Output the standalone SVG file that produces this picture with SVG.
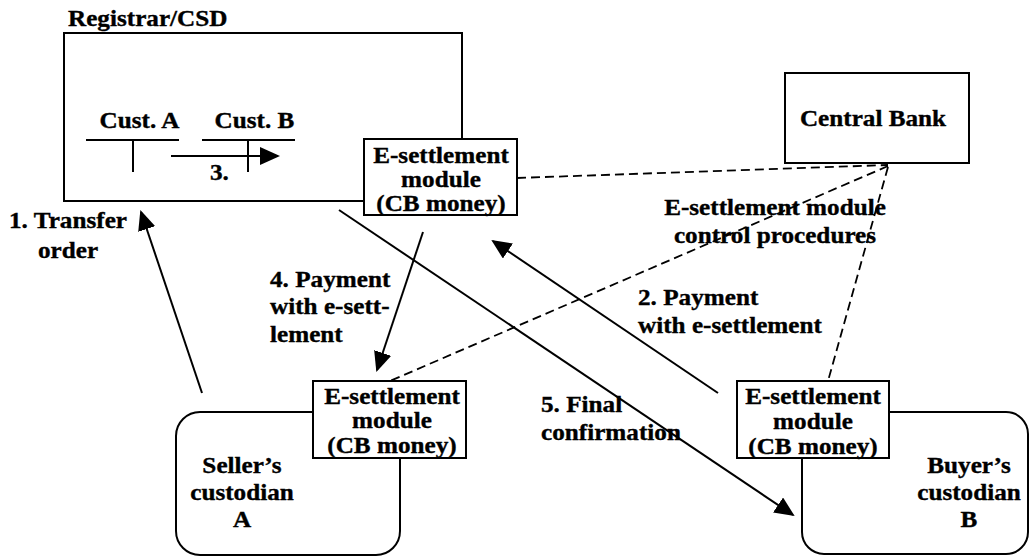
<svg xmlns="http://www.w3.org/2000/svg" width="1029" height="556" viewBox="0 0 1029 556" font-family="'Liberation Serif', 'DejaVu Serif', 'Times New Roman', serif">
  <style>
    .box { fill: #fff; stroke: #000; stroke-width: 2; }
    .ln { fill: none; stroke: #000; stroke-width: 2; }
    .dash { fill: none; stroke: #000; stroke-width: 1.8; stroke-dasharray: 9 5; }
    .arr { fill: none; stroke: #000; stroke-width: 2; marker-end: url(#head); }
    .t { font-family: 'Liberation Serif', 'DejaVu Serif', 'Times New Roman', serif; font-weight: 700; font-size: 22.5px; fill: #000; stroke: #000; stroke-width: 0.35px; }
    .c { text-anchor: middle; }
  </style>
  <defs>
    <marker id="head" viewBox="0 0 20 18" refX="18" refY="9" markerWidth="20" markerHeight="18" markerUnits="userSpaceOnUse" orient="auto">
      <path d="M0,0 L20,9 L0,18 Z" fill="#000"/>
    </marker>
  </defs>

  <!-- Registrar / CSD with its securities accounts -->
  <g id="registrar">
    <rect class="box" x="64" y="33" width="398" height="168"/>
    <text class="t" transform="translate(68,26) scale(1.12 1)">Registrar/CSD</text>
    <text class="t c" transform="translate(139.5,128) scale(1.12 1)">Cust. A</text>
    <text class="t c" transform="translate(254.5,128) scale(1.12 1)">Cust. B</text>
    <path class="ln" d="M86,140 H179 M133,140 V172 M202,140 H295 M248,140 V172"/>
    <path class="arr" d="M171,156 H278"/>
    <text class="t" transform="translate(210,180) scale(1.12 1)">3.</text>
  </g>

  <g id="registrar-module">
    <rect class="box" x="364" y="139" width="153" height="76"/>
    <text class="t c" transform="translate(441,162.5) scale(1.12 1)"><tspan x="0">E-settlement</tspan><tspan x="0" dy="24.5">module</tspan><tspan x="0" dy="24.5">(CB money)</tspan></text>
  </g>

  <g id="central-bank">
    <rect class="box" x="785" y="73" width="184" height="90"/>
    <text class="t c" transform="translate(873,126) scale(1.12 1)">Central Bank</text>
  </g>

  <!-- Seller's custodian A -->
  <g id="seller">
    <rect class="box" x="176" y="412" width="224" height="143" rx="24" ry="24"/>
    <text class="t c" transform="translate(242,473) scale(1.12 1)"><tspan x="0">Seller’s</tspan><tspan x="0" dy="27">custodian</tspan><tspan x="0" dy="27">A</tspan></text>
  </g>
  <g id="seller-module">
    <rect class="box" x="313" y="381" width="153" height="77"/>
    <text class="t c" transform="translate(392,403.5) scale(1.12 1)"><tspan x="0">E-settlement</tspan><tspan x="0" dy="25">module</tspan><tspan x="0" dy="25">(CB money)</tspan></text>
  </g>

  <!-- Buyer's custodian B -->
  <g id="buyer">
    <rect class="box" x="802" y="412" width="226" height="142" rx="22" ry="22"/>
    <text class="t c" transform="translate(969,473) scale(1.12 1)"><tspan x="0">Buyer’s</tspan><tspan x="0" dy="27">custodian</tspan><tspan x="0" dy="27">B</tspan></text>
  </g>
  <g id="buyer-module">
    <rect class="box" x="737" y="381" width="152" height="77"/>
    <text class="t c" transform="translate(813,404) scale(1.12 1)"><tspan x="0">E-settlement</tspan><tspan x="0" dy="25">module</tspan><tspan x="0" dy="25">(CB money)</tspan></text>
  </g>

  <!-- Connectors -->
  <g id="connectors">
    <path class="dash" d="M517,178 L888,165"/>
    <path class="dash" d="M888,166 L390,381"/>
    <path class="dash" d="M888,167 L828,381"/>
    <path class="arr" d="M202,393 L141,212"/>
    <path class="arr" d="M423,232 L377,370"/>
    <path class="arr" d="M718,393 L493,241"/>
    <path class="arr" d="M339,210 L793,515"/>
  </g>

  <!-- Connector labels -->
  <g id="labels">
    <text class="t c" transform="translate(68,228) scale(1.12 1)"><tspan x="0">1. Transfer</tspan><tspan x="0" dy="30">order</tspan></text>
    <text class="t" transform="translate(270,287) scale(1.12 1)"><tspan x="0">4. Payment</tspan><tspan x="0" dy="27.5">with e-sett-</tspan><tspan x="0" dy="27.5">lement</tspan></text>
    <text class="t" transform="translate(638,305) scale(1.12 1)"><tspan x="0">2. Payment</tspan><tspan x="0" dy="28">with e-settlement</tspan></text>
    <text class="t" transform="translate(541,412) scale(1.12 1)"><tspan x="0">5. Final</tspan><tspan x="0" dy="28">confirmation</tspan></text>
    <text class="t c" transform="translate(775,215) scale(1.12 1)"><tspan x="0">E-settlement module</tspan><tspan x="0" dy="28">control procedures</tspan></text>
  </g>
</svg>
